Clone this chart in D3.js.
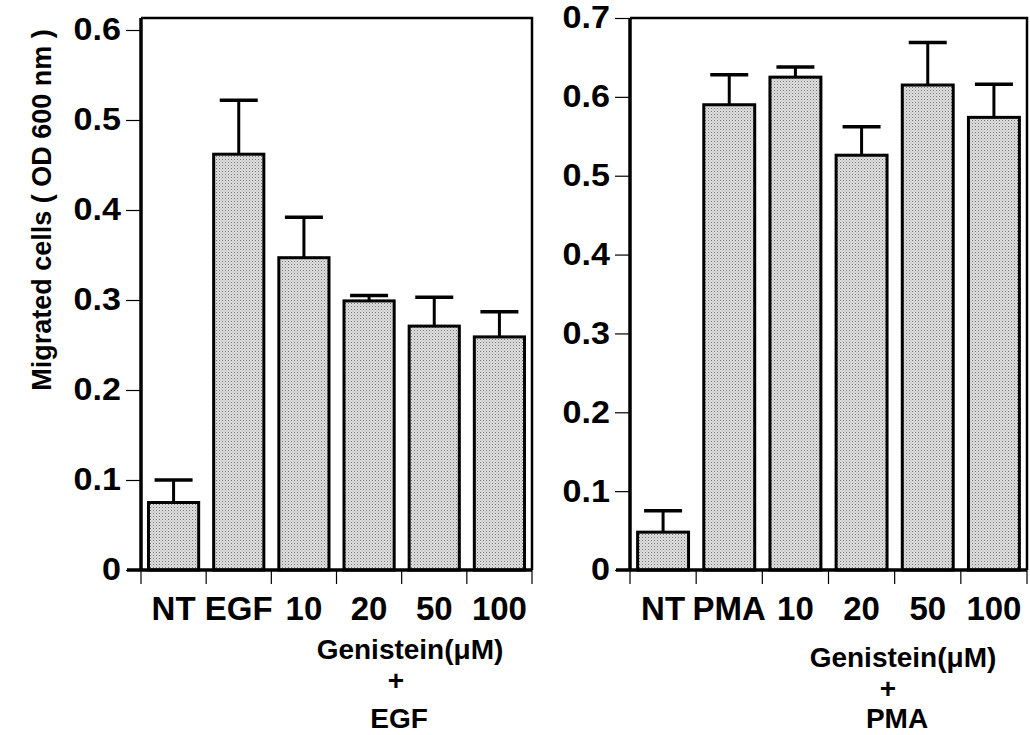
<!DOCTYPE html>
<html>
<head>
<meta charset="utf-8">
<script src="https://cdn.jsdelivr.net/npm/d3@7"></script>
<style>
  body { margin: 0; background: #fff; }
  svg { display: block; font-family: "Liberation Sans", Arial, sans-serif; font-weight: bold; }
</style>
</head>
<body>
<svg id="chart" width="1030" height="735"></svg>
<script>
// left panel: EGF
const egfCats = ["NT", "EGF", "10", "20", "50", "100"];
const egfMean = [0.075, 0.462, 0.347, 0.299, 0.271, 0.259];
const egfErr  = [0.025, 0.060, 0.045, 0.006, 0.032, 0.028];
const egfTicks = [0, 0.1, 0.2, 0.3, 0.4, 0.5, 0.6];

// right panel: PMA
const pmaCats = ["NT", "PMA", "10", "20", "50", "100"];
const pmaMean = [0.048, 0.590, 0.625, 0.526, 0.615, 0.574];
const pmaErr  = [0.027, 0.038, 0.013, 0.036, 0.054, 0.042];
const pmaTicks = [0, 0.1, 0.2, 0.3, 0.4, 0.5, 0.6, 0.7];

const svg = d3.select("#chart");

// stipple fill like the printed figure
const defs = svg.append("defs");
const pat = defs.append("pattern")
    .attr("id", "dots")
    .attr("patternUnits", "userSpaceOnUse")
    .attr("width", 3).attr("height", 3);
pat.append("rect").attr("width", 3).attr("height", 3).attr("fill", "#e2e2e2");
pat.append("rect").attr("x", 0).attr("y", 0).attr("width", 1).attr("height", 1).attr("fill", "#6e6e6e");
pat.append("rect").attr("x", 1.5).attr("y", 1.5).attr("width", 1).attr("height", 1).attr("fill", "#959595");

const tickScaleX = 1.1; // scanned tick digits are a bit wider than Arial

function panel(opts) {
    const { cats, mean, err, ticks, x0, x1, top, yMax, yMaxPx, lab } = opts;
    const bottom = 570;

    const x = d3.scaleBand().domain(cats).range([x0, x1]).paddingInner(0.23).paddingOuter(0.115);
    const y = d3.scaleLinear().domain([0, yMax]).range([bottom, yMaxPx]);

    const g = svg.append("g");

    // bars
    g.selectAll("rect.bar")
        .data(cats)
        .join("rect")
        .attr("class", "bar")
        .attr("x", d => x(d))
        .attr("y", (d, i) => y(mean[i]))
        .attr("width", x.bandwidth())
        .attr("height", (d, i) => bottom - y(mean[i]))
        .attr("fill", "url(#dots)")
        .attr("stroke", "#000")
        .attr("stroke-width", 3);

    // error bars (upper only)
    const eb = g.selectAll("g.err")
        .data(cats)
        .join("g")
        .attr("class", "err");
    eb.append("line")
        .attr("x1", d => x(d) + x.bandwidth() / 2)
        .attr("x2", d => x(d) + x.bandwidth() / 2)
        .attr("y1", (d, i) => y(mean[i]))
        .attr("y2", (d, i) => y(mean[i] + err[i]))
        .attr("stroke", "#000").attr("stroke-width", 3);
    eb.append("line")
        .attr("x1", d => x(d) + x.bandwidth() / 2 - 19)
        .attr("x2", d => x(d) + x.bandwidth() / 2 + 19)
        .attr("y1", (d, i) => y(mean[i] + err[i]))
        .attr("y2", (d, i) => y(mean[i] + err[i]))
        .attr("stroke", "#000").attr("stroke-width", 3.5);

    // frame: top and right
    g.append("path")
        .attr("d", `M${x0},${top}H${x1}V${bottom}`)
        .attr("fill", "none")
        .attr("stroke", "#000")
        .attr("stroke-width", 2.5);

    // y axis
    const ya = g.append("g")
        .attr("transform", `translate(${x0},0)`)
        .call(d3.axisLeft(y).tickValues(ticks).tickSize(15).tickPadding(4)
            .tickFormat(d => d === 0 ? "0" : d3.format(".1f")(d)));
    ya.select(".domain").attr("d", `M0,${bottom}V${top}`).attr("stroke-width", 3.5);
    ya.selectAll(".tick line").attr("stroke-width", 1.2);
    ya.selectAll(".tick text")
        .attr("x", -20 / tickScaleX)
        .attr("transform", `scale(${tickScaleX},1)`)
        .attr("font-size", 31)
        .attr("font-weight", "bold")
        .attr("font-family", "Liberation Sans, Arial, sans-serif")
        .attr("fill", "#000");

    // x axis: band boundary ticks below baseline
    const bounds = cats.map(c => x(c) - x.step() * x.paddingInner() / 2);
    bounds[0] = x0;
    bounds.push(x1);
    g.selectAll("line.xt")
        .data(bounds)
        .join("line")
        .attr("class", "xt")
        .attr("x1", d => d).attr("x2", d => d)
        .attr("y1", bottom).attr("y2", bottom + 14)
        .attr("stroke", "#000").attr("stroke-width", 1.2);
    g.append("line")
        .attr("x1", x0 - 14).attr("x2", x1)
        .attr("y1", bottom).attr("y2", bottom)
        .attr("stroke", "#000").attr("stroke-width", 3.5);

    g.selectAll("text.cat")
        .data(cats)
        .join("text")
        .attr("class", "cat")
        .attr("x", d => x(d) + x.bandwidth() / 2)
        .attr("y", 620)
        .attr("text-anchor", "middle")
        .attr("font-size", 33)
        .text(d => d);

    // group label
    const lg = g.append("g").attr("text-anchor", "middle");
    lg.append("text").attr("x", lab.gx).attr("y", lab.gy)
        .attr("font-size", 28).text("Genistein(μM)");
    lg.append("text").attr("x", lab.px).attr("y", lab.gy + 31)
        .attr("font-size", 28).text("+");
    lg.append("text").attr("x", lab.ex).attr("y", 728)
        .attr("font-size", 28).text(lab.agent);
}

panel({
    cats: egfCats, mean: egfMean, err: egfErr, ticks: egfTicks,
    x0: 141, x1: 532, top: 18, yMax: 0.6, yMaxPx: 30,
    lab: { gx: 410, gy: 659, px: 396, ex: 399, agent: "EGF" }
});

panel({
    cats: pmaCats, mean: pmaMean, err: pmaErr, ticks: pmaTicks,
    x0: 630, x1: 1027, top: 18, yMax: 0.7, yMaxPx: 18,
    lab: { gx: 903, gy: 667, px: 888, ex: 897, agent: "PMA" }
});

// shared y axis title
svg.append("text")
    .attr("transform", "translate(51,210) rotate(-90)")
    .attr("text-anchor", "middle")
    .attr("font-size", 27)
    .text("Migrated cells ( OD 600 nm )");
</script>
</body>
</html>
